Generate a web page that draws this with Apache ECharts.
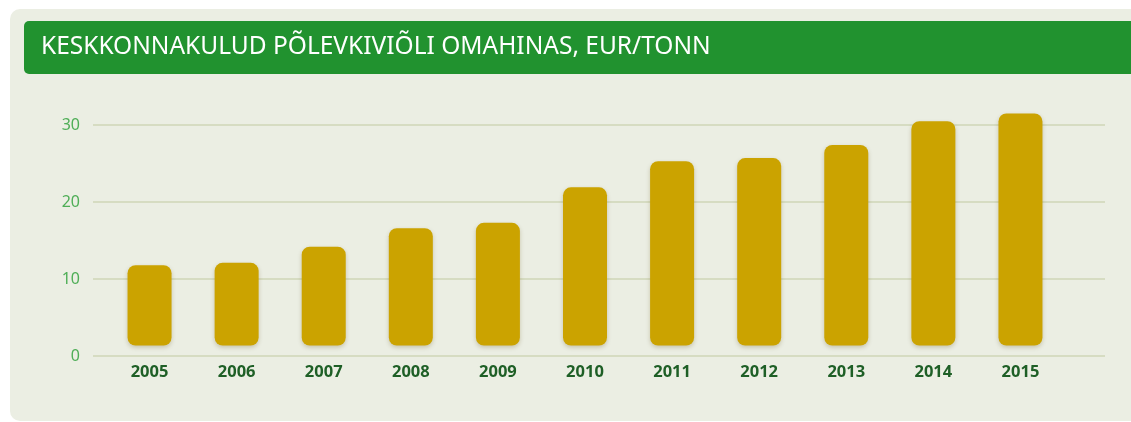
<!DOCTYPE html>
<html>
<head>
<meta charset="utf-8">
<script src="https://cdn.jsdelivr.net/npm/echarts@6/dist/echarts.min.js"></script>
<style>
  html, body { margin: 0; padding: 0; background: #ffffff; }
  #chart { width: 1131px; height: 422px; }
</style>
</head>
<body>
<div id="chart"></div>
<script>
        // andmed
        var years = ['2005', '2006', '2007', '2008', '2009', '2010', '2011', '2012', '2013', '2014', '2015'];
        var costs = [11.8, 12.1, 14.2, 16.6, 17.3, 21.9, 25.3, 25.7, 27.4, 30.5, 31.5];
        var yTicks = [0, 10, 20, 30];
        var barBase = 1.35; // tulbad algavad veidi nulljoone kohal

        var myChart = echarts.init(document.getElementById('chart'));

        var baseData = years.map(function () { return barBase; });
        var topData = costs.map(function (v) { return +(v - barBase).toFixed(2); });

        var options = {
            backgroundColor: '#ffffff',
            animation: false,
            graphic: [
                { type: 'rect', shape: { x: 10, y: 9, width: 1140, height: 412, r: 10 }, style: { fill: '#ebeee3' }, z: -10 },
                { type: 'rect', shape: { x: 24, y: 21, width: 1130, height: 53, r: 5 }, style: { fill: '#21922f' }, z: -9 }
            ],
            title: {
                text: 'KESKKONNAKULUD PÕLEVKIVIÕLI OMAHINAS, EUR/TONN',
                left: 36,
                top: 30,
                textStyle: { color: '#ffffff', fontFamily: 'Noto Sans', fontWeight: 'normal', fontSize: 24.5 }
            },
            grid: [
                { left: 93, right: 26, top: 125, bottom: 66 },
                { left: 106, right: 67, top: 125, bottom: 66 }
            ],
            xAxis: [
                { type: 'category', gridIndex: 0, data: years, show: false },
                {
                    type: 'category', gridIndex: 1, data: years,
                    axisLine: { show: false }, axisTick: { show: false },
                    axisLabel: { color: '#1e5f26', fontFamily: 'Noto Sans', fontWeight: 'bold', fontSize: 16.5, margin: 8 }
                }
            ],
            yAxis: [
                {
                    type: 'value', gridIndex: 0, min: yTicks[0], max: yTicks[yTicks.length - 1], interval: 10,
                    axisLine: { show: false }, axisTick: { show: false },
                    axisLabel: { color: '#4fae57', fontFamily: 'Noto Sans', fontSize: 16, margin: 13 },
                    splitLine: { lineStyle: { color: '#d6dcc2', width: 2 } }
                },
                { type: 'value', gridIndex: 1, min: 0, max: 30, show: false }
            ],
            series: [
                {
                    type: 'bar', xAxisIndex: 1, yAxisIndex: 1, stack: 'k', data: baseData, clip: false,
                    barWidth: 44, itemStyle: { color: 'transparent' }, silent: true
                },
                {
                    type: 'bar', xAxisIndex: 1, yAxisIndex: 1, stack: 'k', data: topData, clip: false,
                    barWidth: 44,
                    itemStyle: {
                        color: '#cba300', borderRadius: 8,
                        shadowColor: 'rgba(90,70,0,0.25)', shadowBlur: 4, shadowOffsetY: 2
                    }
                }
            ]
        };

        myChart.setOption(options);
</script>
</body>
</html>
